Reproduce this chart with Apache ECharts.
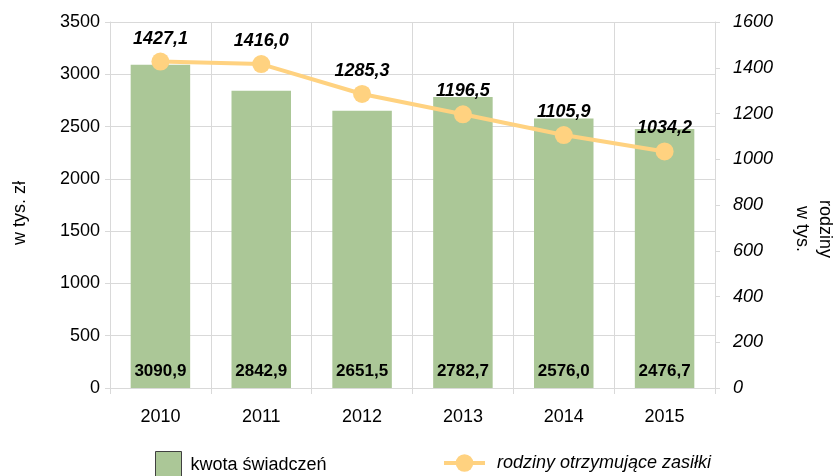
<!DOCTYPE html>
<html><head><meta charset="utf-8">
<script src="https://cdn.jsdelivr.net/npm/echarts@6/dist/echarts.min.js"></script>
<style>html,body{margin:0;padding:0;background:#fff}#c{width:838px;height:476px}</style>
</head><body><div id="c"></div>
<script>
const categories = ['2010','2011','2012','2013','2014','2015'];
const kwotaSwiadczen = [3090.9, 2842.9, 2651.5, 2782.7, 2576.0, 2476.7];
const rodziny = [1427.1, 1416.0, 1285.3, 1196.5, 1105.9, 1034.2];
const leftTicks = [0, 3500, 500];
const rightTicks = [0, 1600, 200];
const fmt = v => Number(v).toFixed(1).replace('.', ',');
const F = 'Liberation Sans, Arial, sans-serif';
const grid = '#d9d9d9';
const chart = echarts.init(document.getElementById('c'));
chart.setOption({
  animation: false,
  textStyle: {fontFamily: F},
  grid: {left: 110, right: 123, top: 22, bottom: 88},
  graphic: [
    {type: 'text', x: 20, y: 213, rotation: Math.PI / 2,
     style: {text: 'w tys. zł', font: '18px ' + F, fill: '#000', align: 'center', verticalAlign: 'middle'}},
    {type: 'text', x: 813, y: 229, rotation: -Math.PI / 2,
     style: {text: 'rodziny\nw tys.', font: '18px ' + F, lineHeight: 23, fill: '#000', align: 'center', verticalAlign: 'middle'}}
  ],
  legend: [
    {data: ['kwota świadczeń'], left: 150, top: 446, itemWidth: 26, itemHeight: 28, icon: 'rect',
     itemStyle: {borderColor: '#404040', borderWidth: 1},
     textStyle: {fontSize: 18, color: '#000', fontFamily: F, padding: [0, 0, 0, 4]}},
    {data: ['rodziny otrzymujące zasiłki'], left: 437, top: 449, itemWidth: 41, itemHeight: 22,
     lineStyle: {width: 4},
     textStyle: {fontSize: 18, color: '#000', fontStyle: 'italic', fontFamily: F, padding: [0, 0, 0, 7]}}
  ],
  xAxis: {
    type: 'category', data: categories,
    axisLine: {lineStyle: {color: grid}},
    axisTick: {show: true, length: 6, lineStyle: {color: grid}},
    axisLabel: {fontSize: 18, color: '#000', margin: 20},
    splitLine: {show: true, lineStyle: {color: grid}}
  },
  yAxis: [
    {type: 'value', min: leftTicks[0], max: leftTicks[1], interval: leftTicks[2],
     axisLine: {show: true, lineStyle: {color: grid}},
     axisTick: {show: true, length: 5, lineStyle: {color: grid}},
     axisLabel: {fontSize: 18, color: '#000', margin: 10, formatter: v => String(v)},
     splitLine: {lineStyle: {color: grid}}},
    {type: 'value', min: rightTicks[0], max: rightTicks[1], interval: rightTicks[2],
     axisLine: {show: true, lineStyle: {color: grid}},
     axisTick: {show: true, length: 5, lineStyle: {color: grid}},
     axisLabel: {fontSize: 18, color: '#000', fontStyle: 'italic', margin: 18, formatter: v => String(v)},
     splitLine: {show: false}}
  ],
  series: [
    {name: 'kwota świadczeń', type: 'bar', data: kwotaSwiadczen, barWidth: '59%',
     itemStyle: {color: '#abc797'},
     label: {show: true, position: 'insideBottom', distance: 8, formatter: p => fmt(p.value),
       fontSize: 17, fontWeight: 'bold', color: '#000'}},
    {name: 'rodziny otrzymujące zasiłki', type: 'line', yAxisIndex: 1, data: rodziny,
     symbol: 'circle', symbolSize: 18,
     lineStyle: {color: '#ffd280', width: 4},
     itemStyle: {color: '#ffd280'},
     label: {show: true, position: 'top', distance: 5, formatter: p => fmt(p.value),
       fontSize: 18, fontWeight: 'bold', fontStyle: 'italic', color: '#000'}}
  ]
});
</script></body></html>
